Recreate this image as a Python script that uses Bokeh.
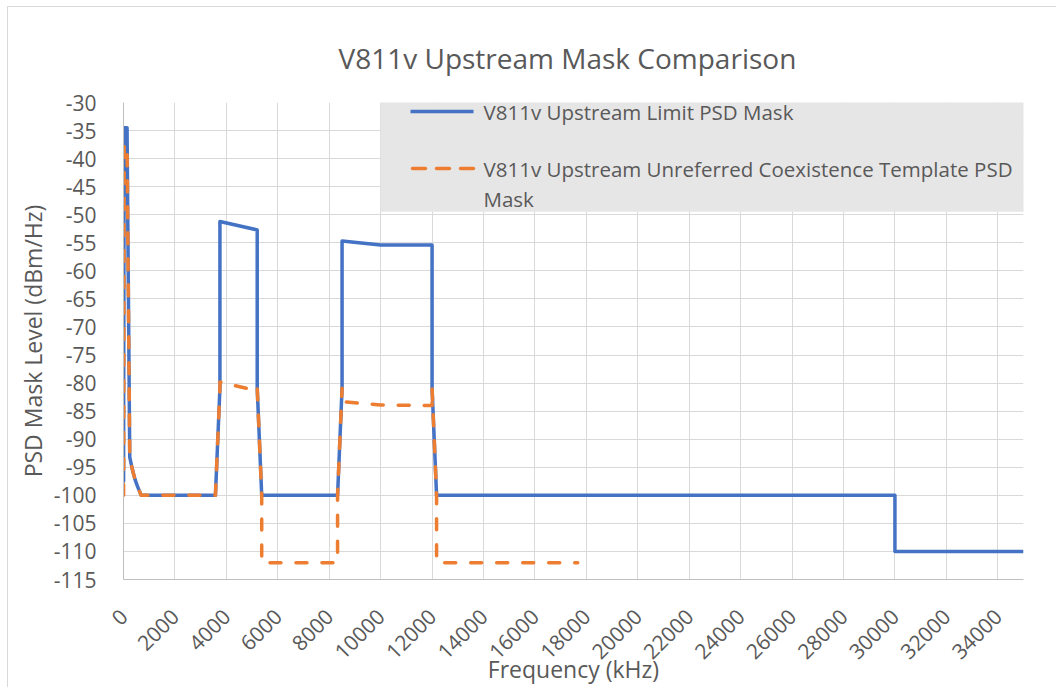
import math
from bokeh.plotting import figure
from bokeh.models import (ColumnDataSource, FixedTicker, NumeralTickFormatter,
                          Label, Arrow, Range1d)
from bokeh.embed import file_html
from bokeh.resources import INLINE

# ---------------- data ----------------
title_text = "V811v Upstream Mask Comparison"
x_axis_title = "Frequency (kHz)"
y_axis_title = "PSD Mask Level (dBm/Hz)"
series_names = ["V811v Upstream Limit PSD Mask",
                "V811v Upstream Unreferred Coexistence Template PSD Mask"]

limit_freq = [0, 4, 4, 25.875, 138, 243, 350, 450, 545, 686, 3575, 3750, 3750,
              5200, 5200, 5375, 8325, 8500, 8500, 10000, 12000, 12000, 12175,
              30000, 30000, 35000]
limit_psd = [-97.5, -97.5, -92.5, -34.5, -34.5, -93.2, -95.5, -97.2, -98.4, -100,
             -100, -80.9, -51.2, -52.7, -80.9, -100, -100, -80.9, -54.7, -55.4,
             -55.4, -80.9, -100, -100, -110, -110]

template_freq = [0, 4, 25.875, 138, 243, 350, 450, 545, 686, 3575, 3750, 3750,
                 5200, 5200, 5375, 5375, 8325, 8325, 8500, 8500, 10000, 12000,
                 12000, 12175, 12175, 17664]
template_psd = [-100, -100, -37.5, -37.5, -93.2, -95.5, -97.2, -98.4, -100, -100,
                -80.9, -79.8, -81.4, -80.9, -100, -112, -112, -100, -80.9, -83.3,
                -83.9, -84.0, -80.9, -100, -112, -112]

x_ticks = [0, 2000, 4000, 6000, 8000, 10000, 12000, 14000, 16000, 18000, 20000,
           22000, 24000, 26000, 28000, 30000, 32000, 34000]
y_ticks = [-115, -110, -105, -100, -95, -90, -85, -80, -75, -70, -65, -60, -55,
           -50, -45, -40, -35, -30]
x_limits = (0, 35000)
y_limits = (-115, -30)

# ---------------- style ----------------
FONT = "Open Sans"
TXT = "#595959"
GRID = "#d9d9d9"
BLUE = "#4472C4"
ORANGE = "#ED7D31"

W, H = 1049, 681
BL, BT, FW, FH = 115, 95, 900, 478
BR, BB = W - BL - FW, H - BT - FH

p = figure(width=W, height=H, x_range=Range1d(*x_limits), y_range=Range1d(*y_limits),
           output_backend="svg", toolbar_location=None, title=title_text,
           min_border_left=BL, min_border_right=BR, min_border_top=BT,
           min_border_bottom=BB)
p.styles = {"margin-left": "7px", "margin-top": "6px",
            "border-left": "1px solid #d9d9d9", "border-top": "1px solid #d9d9d9"}

p.title.align = "left"
p.title.offset = 215
p.title.vertical_align = "top"
p.title.text_font = FONT
p.title.text_font_size = "28px"
p.title.text_font_style = "normal"
p.title.text_color = TXT
p.title.standoff = 48

p.outline_line_color = None
p.background_fill_color = "white"
p.border_fill_color = "white"

p.xaxis.ticker = FixedTicker(ticks=x_ticks)
p.yaxis.ticker = FixedTicker(ticks=y_ticks)
p.xaxis.formatter = NumeralTickFormatter(format="0")
p.yaxis.formatter = NumeralTickFormatter(format="0")
p.xgrid.ticker = FixedTicker(ticks=x_ticks)
p.ygrid.ticker = FixedTicker(ticks=y_ticks)
p.grid.grid_line_color = GRID
p.grid.grid_line_width = 1

for ax in (p.xaxis, p.yaxis):
    ax.major_tick_line_color = None
    ax.minor_tick_line_color = None
    ax.axis_line_color = "#bfbfbf"
    ax.major_label_text_font = FONT
    ax.major_label_text_font_size = "21px"
    ax.major_label_text_color = TXT
    ax.axis_label_text_font = FONT
    ax.axis_label_text_font_size = "23px"
    ax.axis_label_text_font_style = "normal"
    ax.axis_label_text_color = TXT

p.xaxis.axis_label = x_axis_title
p.yaxis.axis_label = y_axis_title
p.xaxis.major_label_orientation = math.pi / 4
p.xaxis.major_label_standoff = 27
p.yaxis.major_label_standoff = 21
p.xaxis.axis_label_standoff = -16
p.yaxis.axis_label_standoff = 2

src_limit = ColumnDataSource(dict(x=limit_freq, y=limit_psd))
src_temp = ColumnDataSource(dict(x=template_freq, y=template_psd))

p.line("x", "y", source=src_limit, line_color=BLUE, line_width=3.5,
       line_join="round")
p.line("x", "y", source=src_temp, line_color=ORANGE, line_width=3.5,
       line_join="round", line_cap="round", line_dash="11 15")

# ---------------- legend (screen units relative to the frame) ----------------
LEG_BG = "#e7e6e6"
# background box: a blank label whose padding (left, right, top, bottom) sets the box
p.add_layout(Label(x=257, y=FH + 3, x_units="screen", y_units="screen",
                   text=" ", text_font=FONT, text_font_size="1px",
                   text_align="left", text_baseline="top",
                   background_fill_color=LEG_BG, background_fill_alpha=1.0,
                   padding=(0, 700, 0, 112)))
legend_lines = [(series_names[0], FH - 10),
                ("V811v Upstream Unreferred Coexistence Template PSD", FH - 67),
                ("Mask", FH - 97)]
for t, yy in legend_lines:
    p.add_layout(Label(x=360, y=yy, x_units="screen", y_units="screen", text=t,
                       text_font=FONT, text_font_size="20.5px", text_color=TXT,
                       text_align="left", text_baseline="middle"))
p.add_layout(Arrow(end=None, x_start=287, y_start=FH - 10, x_end=350, y_end=FH - 10,
                   start_units="screen", end_units="screen",
                   line_color=BLUE, line_width=3.5))
p.add_layout(Arrow(end=None, x_start=289, y_start=FH - 67, x_end=350, y_end=FH - 67,
                   start_units="screen", end_units="screen",
                   line_color=ORANGE, line_width=3.5, line_dash="13 11",
                   line_cap="round"))

open("out.html", "w").write(file_html(p, INLINE))
